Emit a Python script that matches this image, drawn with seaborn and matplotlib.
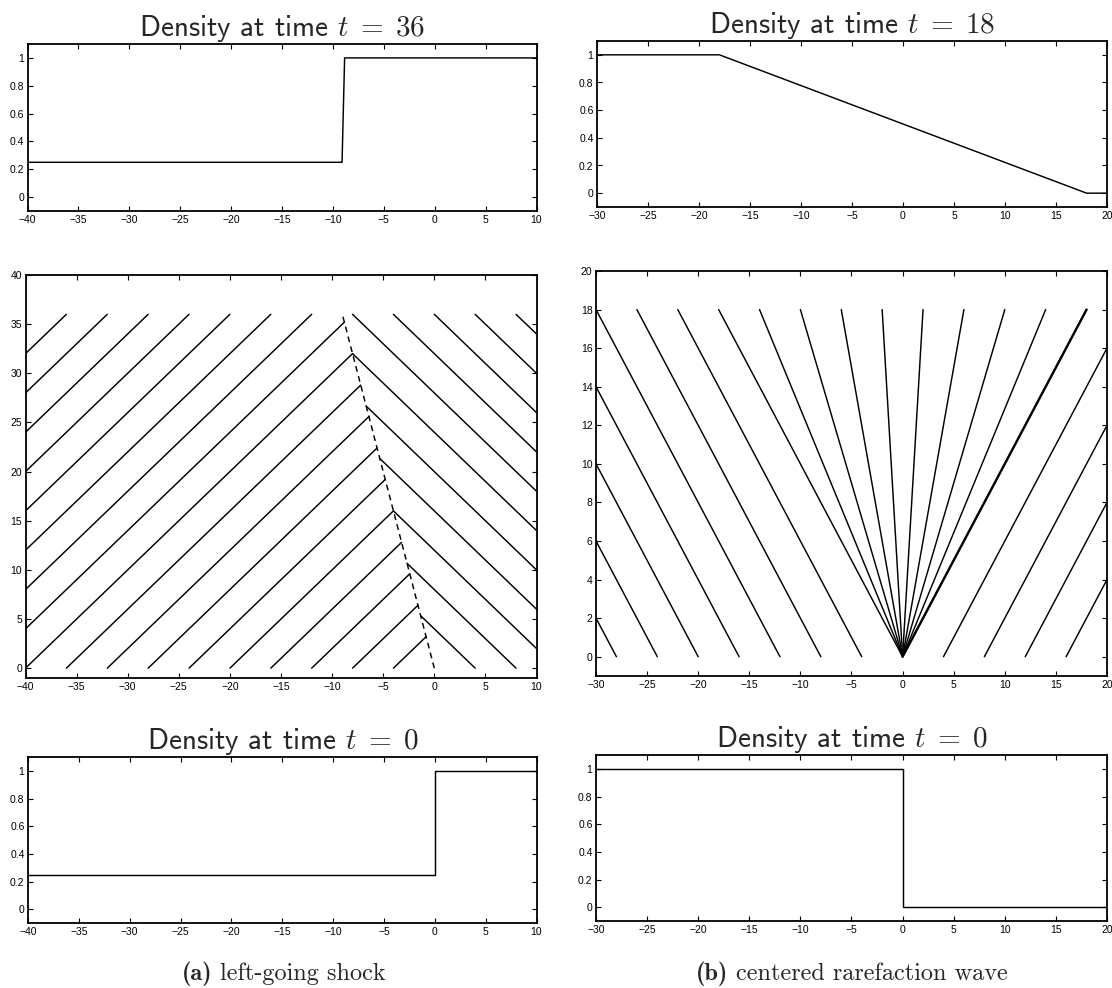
import matplotlib
matplotlib.use("Agg")
import matplotlib.pyplot as plt
import numpy as np
import pandas as pd
import seaborn as sns

# ---------------- data ----------------
# (a) left-going shock: rho_L = 0.25, rho_R = 1
shock_density_x = [-40, -9.1, -8.85, 10]
shock_density_t36 = [0.25, 0.25, 1.0, 1.0]
shock_init_x = [-40, 0, 0, 10]
shock_init_rho = [0.25, 0.25, 1.0, 1.0]

# characteristics on the left of the shock (start -> end)
left_x0 = [-40, -40, -40, -40, -40, -40, -40, -40, -40, -36, -32, -28, -24, -20, -16, -12, -8, -4]
left_t0 = [32, 28, 24, 20, 16, 12, 8, 4, 0, 0, 0, 0, 0, 0, 0, 0, 0, 0]
left_x1 = [-36, -32, -28, -24, -20, -16, -12, -8.8, -8, -7.2, -6.4, -5.6, -4.8, -4, -3.2, -2.4, -1.6, -0.8]
left_t1 = [36, 36, 36, 36, 36, 36, 36, 35.2, 32, 28.8, 25.6, 22.4, 19.2, 16, 12.8, 9.6, 6.4, 3.2]

# characteristics on the right of the shock
right_x0 = [4, 8, 10, 10, 10, 10, 10, 10, 10, 10, 10]
right_t0 = [0, 0, 2, 6, 10, 14, 18, 22, 26, 30, 34]
right_x1 = [-1.33, -2.67, -4, -5.33, -6.67, -8, -8, -4, 0, 4, 8]
right_t1 = [5.33, 10.67, 16, 21.33, 26.67, 32, 36, 36, 36, 36, 36]

# shock path
shock_path_x = [0, -9]
shock_path_t = [0, 36]

# (b) centered rarefaction wave: rho_L = 1, rho_R = 0
rare_density_x = [-30, -18, 18, 20]
rare_density_t18 = [1.0, 1.0, 0.0, 0.0]
rare_init_x = [-30, 0, 0, 20]
rare_init_rho = [1.0, 1.0, 0.0, 0.0]

# left-moving characteristics
rl_x0 = [-28, -24, -20, -16, -12, -8, -4]
rl_t0 = [0, 0, 0, 0, 0, 0, 0]
rl_x1 = [-30, -30, -30, -30, -30, -26, -22]
rl_t1 = [2, 6, 10, 14, 18, 18, 18]

# fan from the origin
fan_x1 = [-18, -14, -10, -6, -2, 2, 6, 10, 14, 18]
fan_t1 = [18, 18, 18, 18, 18, 18, 18, 18, 18, 18]

# right-moving characteristics
rr_x0 = [4, 8, 12, 16]
rr_t0 = [0, 0, 0, 0]
rr_x1 = [20, 20, 20, 20]
rr_t1 = [16, 12, 8, 4]

# tick labels
shock_xticks = [-40, -35, -30, -25, -20, -15, -10, -5, 0, 5, 10]
rare_xticks = [-30, -25, -20, -15, -10, -5, 0, 5, 10, 15, 20]
rho_ticks = [0, 0.2, 0.4, 0.6, 0.8, 1]
rho_ticklabels = ["0", "0.2", "0.4", "0.6", "0.8", "1"]
shock_tticks = [0, 5, 10, 15, 20, 25, 30, 35, 40]
rare_tticks = [0, 2, 4, 6, 8, 10, 12, 14, 16, 18, 20]

# ---------------- style ----------------
sns.set_style("ticks")
plt.rcParams.update({
    "font.family": ["Liberation Sans", "DejaVu Sans"],
    "mathtext.fontset": "cm",
    "xtick.direction": "in",
    "ytick.direction": "in",
    "xtick.top": True,
    "ytick.right": True,
    "xtick.major.size": 3.5,
    "ytick.major.size": 3.5,
    "xtick.major.width": 0.8,
    "ytick.major.width": 0.8,
    "xtick.major.pad": 3,
    "ytick.major.pad": 2.5,
    "axes.linewidth": 1.3,
    "axes.edgecolor": "black",
    "xtick.color": "black",
    "ytick.color": "black",
})

W, H = 1112, 988
fig = plt.figure(figsize=(W / 100, H / 100), dpi=100)
TICK_FS = 7.5


def box(x0, y0, x1, y1):
    return [x0 / W, 1 - y1 / H, (x1 - x0) / W, (y1 - y0) / H]


def minus(v):
    s = f"{v:g}"
    return s.replace("-", "\u2212")


def style_axes(ax, xticks, yticks, ylabels=None):
    ax.set_xticks(xticks)
    ax.set_xticklabels([minus(v) for v in xticks], fontsize=TICK_FS)
    ax.set_yticks(yticks)
    ax.set_yticklabels(ylabels if ylabels else [minus(v) for v in yticks], fontsize=TICK_FS)
    ax.set_xlabel("")
    ax.set_ylabel("")
    for s in ax.spines.values():
        s.set_visible(True)
    if ax.get_legend() is not None:
        ax.get_legend().remove()


def title(ax, tval):
    ax.set_title(r"Density at time $t\;=\;%s$" % tval, fontfamily="cmss10",
                 fontsize=21, pad=4)


def segments(x0, t0, x1, t1):
    rows = []
    for i, (a, b, c, d) in enumerate(zip(x0, t0, x1, t1)):
        rows.append((i, a, b))
        rows.append((i, c, d))
    return pd.DataFrame(rows, columns=["seg", "x", "t"])


LW = 1.05

# ---- (a) top: density at t = 36
ax = fig.add_axes(box(27.5, 44, 536.5, 211))
sns.lineplot(x=shock_density_x, y=shock_density_t36, ax=ax, color="black",
             lw=LW, sort=False, estimator=None)
ax.set_xlim(-40, 10)
ax.set_ylim(-0.1, 1.1)
style_axes(ax, shock_xticks, rho_ticks, rho_ticklabels)
title(ax, "36")

# ---- (a) middle: characteristics
ax = fig.add_axes(box(25.5, 275, 536.5, 678))
df = pd.concat([segments(left_x0, left_t0, left_x1, left_t1),
                segments(right_x0, right_t0, right_x1, right_t1).assign(seg=lambda d: d.seg + 100)])
sns.lineplot(data=df, x="x", y="t", units="seg", estimator=None, sort=False,
             color="black", lw=LW, ax=ax)
sns.lineplot(x=shock_path_x, y=shock_path_t, ax=ax, color="black", lw=LW,
             sort=False, estimator=None, linestyle=(0, (4, 3)))
ax.set_xlim(-40, 10)
ax.set_ylim(-1, 40)
style_axes(ax, shock_xticks, shock_tticks)

# ---- (a) bottom: density at t = 0
ax = fig.add_axes(box(28, 757, 536.5, 923))
sns.lineplot(x=shock_init_x, y=shock_init_rho, ax=ax, color="black",
             lw=LW, sort=False, estimator=None)
ax.set_xlim(-40, 10)
ax.set_ylim(-0.1, 1.1)
style_axes(ax, shock_xticks, rho_ticks, rho_ticklabels)
title(ax, "0")

# ---- (b) top: density at t = 18
ax = fig.add_axes(box(597, 41, 1107, 207))
sns.lineplot(x=rare_density_x, y=rare_density_t18, ax=ax, color="black",
             lw=LW, sort=False, estimator=None)
ax.set_xlim(-30, 20)
ax.set_ylim(-0.1, 1.1)
style_axes(ax, rare_xticks, rho_ticks, rho_ticklabels)
title(ax, "18")

# ---- (b) middle: characteristics
ax = fig.add_axes(box(596, 271, 1107, 676))
fan_x0 = [0] * len(fan_x1)
fan_t0 = [0] * len(fan_x1)
df = pd.concat([segments(rl_x0, rl_t0, rl_x1, rl_t1),
                segments(fan_x0, fan_t0, fan_x1, fan_t1).assign(seg=lambda d: d.seg + 100),
                segments(rr_x0, rr_t0, rr_x1, rr_t1).assign(seg=lambda d: d.seg + 200)])
sns.lineplot(data=df, x="x", y="t", units="seg", estimator=None, sort=False,
             color="black", lw=LW, ax=ax)
# edge of the fan, where the fan meets the rho = 0 state
sns.lineplot(x=[fan_x0[-1], fan_x1[-1]], y=[fan_t0[-1], fan_t1[-1]], ax=ax,
             color="black", lw=1.7, sort=False, estimator=None)
ax.set_xlim(-30, 20)
ax.set_ylim(-1, 20)
style_axes(ax, rare_xticks, rare_tticks)

# ---- (b) bottom: density at t = 0
ax = fig.add_axes(box(596, 755, 1107, 921))
sns.lineplot(x=rare_init_x, y=rare_init_rho, ax=ax, color="black",
             lw=LW, sort=False, estimator=None)
ax.set_xlim(-30, 20)
ax.set_ylim(-0.1, 1.1)
style_axes(ax, rare_xticks, rho_ticks, rho_ticklabels)
title(ax, "0")

# ---- captions: bold tag followed by roman text, centred as one line
CAP_FS = 17.5
renderer = fig.canvas.get_renderer()


def caption(xc, yc, tag, body):
    t1 = fig.text(0, 0, tag, fontfamily="cmb10", fontsize=CAP_FS, va="baseline")
    t2 = fig.text(0, 0, body, fontfamily="cmr10", fontsize=CAP_FS, va="baseline")
    w1 = t1.get_window_extent(renderer).width
    w2 = t2.get_window_extent(renderer).width
    gap = 8
    total = w1 + gap + w2
    x0 = xc - total / 2
    yb = H - yc
    t1.set_position((x0 / W, yb / H))
    t2.set_position(((x0 + w1 + gap) / W, yb / H))


caption(284, 980, "(a)", "left-going shock")
caption(852, 980, "(b)", "centered rarefaction wave")

fig.savefig("out.png", dpi=100)
